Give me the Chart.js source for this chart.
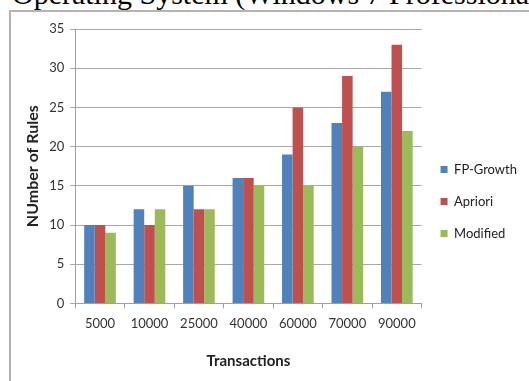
<!DOCTYPE html>
<html>
<head>
    <title>Number of Rules vs Transactions</title>
    <script src="https://cdn.jsdelivr.net/npm/chart.js"></script>
    <style>
        body {
            margin: 0;
            width: 529px;
            height: 381px;
            overflow: hidden;
            background: #fff;
            position: relative;
        }
        .caption {
            position: absolute;
            left: 12px;
            top: -21px;
            font-family: "Liberation Serif", serif;
            font-size: 30px;
            line-height: 30px;
            white-space: nowrap;
            color: #000;
        }
        .frame {
            position: absolute;
            left: 9px;
            top: 10px;
            width: 520px;
            height: 371px;
            border-left: 2px solid #b4b4b4;
            border-top: 2px solid #b4b4b4;
        }
    </style>
</head>
<body>
    <div class="caption">Operating System (Windows 7 Professional)</div>
    <div class="frame">
        <canvas id="rulesChart" width="518" height="369"></canvas>
    </div>

    <script>
        // Chart data
        const transactions = ['5000', '10000', '25000', '40000', '60000', '70000', '90000'];
        const fpGrowth = [10, 12, 15, 16, 19, 23, 27];
        const apriori = [10, 10, 12, 16, 25, 29, 33];
        const modified = [9, 12, 12, 15, 15, 20, 22];
        const yTicks = [0, 5, 10, 15, 20, 25, 30, 35];

        const font = 'Lato';

        const rulesChart = new Chart(document.getElementById('rulesChart').getContext('2d'), {
            type: 'bar',
            data: {
                labels: transactions,
                datasets: [
                    { label: 'FP-Growth', data: fpGrowth, backgroundColor: '#4f81bd' },
                    { label: 'Apriori', data: apriori, backgroundColor: '#c0504d' },
                    { label: 'Modified', data: modified, backgroundColor: '#9bbb59' }
                ]
            },
            options: {
                responsive: false,
                animation: false,
                datasets: { bar: { categoryPercentage: 0.64, barPercentage: 1.0 } },
                layout: { padding: { left: 8, top: 17, right: 2, bottom: 7 } },
                plugins: {
                    legend: {
                        position: 'right',
                        labels: {
                            boxWidth: 7, boxHeight: 7, padding: 19,
                            color: '#222', font: { family: font, size: 13 }
                        }
                    },
                    tooltip: { enabled: false }
                },
                scales: {
                    x: {
                        grid: { offset: true, drawOnChartArea: false, drawTicks: true, tickLength: 5, color: '#a0a0a0' },
                        border: { color: '#a0a0a0' },
                        ticks: { color: '#333', font: { family: font, size: 13 }, padding: 8 },
                        title: { display: true, text: 'Transactions', color: '#222', font: { family: font, size: 15, weight: 'bold' }, padding: { top: 12 } }
                    },
                    y: {
                        min: 0, max: 35,
                        afterBuildTicks: axis => { axis.ticks = yTicks.map(v => ({ value: v })); },
                        grid: { color: '#a8a8a8', tickLength: 5 },
                        border: { color: '#a0a0a0' },
                        ticks: { color: '#333', font: { family: font, size: 13 }, padding: 6 },
                        title: { display: true, text: 'NUmber of Rules', color: '#222', font: { family: font, size: 16, weight: 'bold' }, padding: { bottom: 1 } }
                    }
                }
            }
        });
    </script>
</body>
</html>
